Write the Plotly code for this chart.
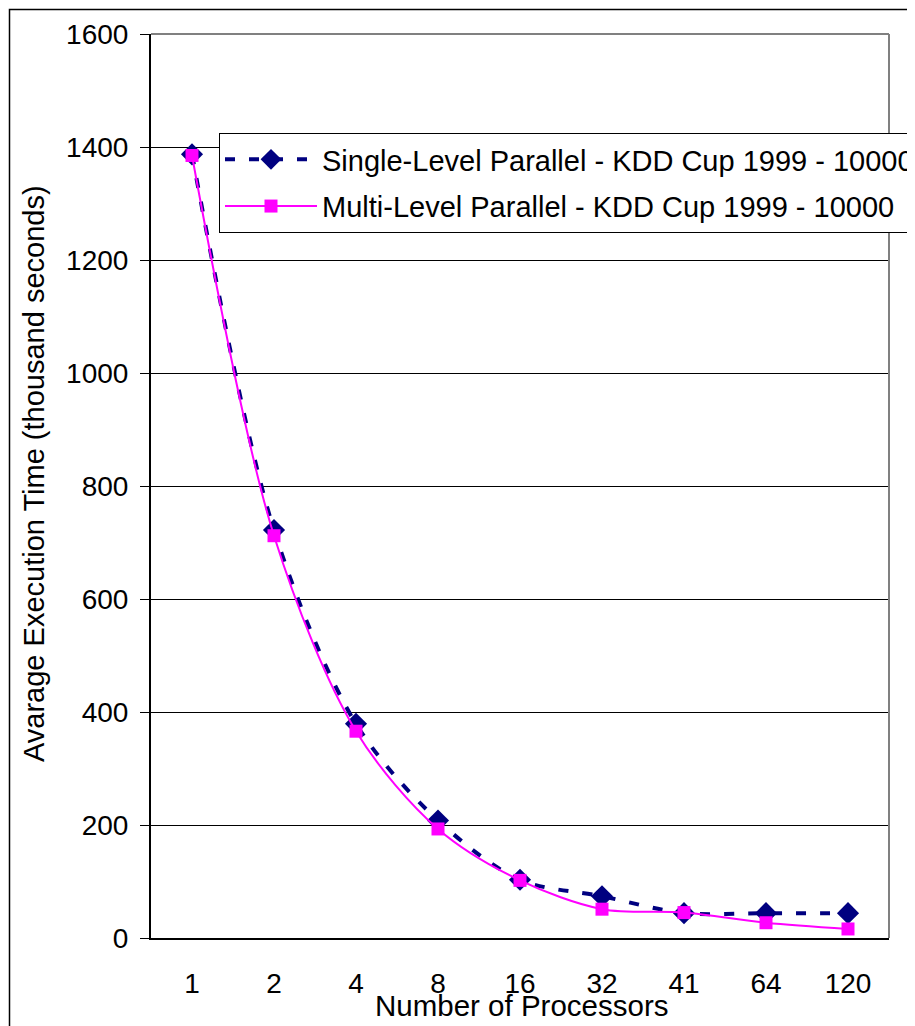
import plotly.graph_objects as go

categories = ["1", "2", "4", "8", "16", "32", "41", "64", "120"]
single_level = [1387, 722, 379, 208, 103, 74, 44, 44, 44]
multi_level = [1385, 712, 366, 193, 102, 51, 45, 27, 16]
y_ticks = [0, 200, 400, 600, 800, 1000, 1200, 1400, 1600]

series_names = [
    "Single-Level Parallel - KDD Cup 1999 - 10000",
    "Multi-Level Parallel - KDD Cup 1999 - 10000",
]

OFF = 8  # page body margin
W, H = 915 - OFF, 1026 - OFF
L, R, T, B = 151 - OFF, 889 - OFF, 34 - OFF, 938 - OFF  # plot area in figure pixels

def px_x(p):
    return (p - OFF - L) / (R - L)

def px_y(p):
    return (B - (p - OFF)) / (B - T)

FONT = "Liberation Sans, Arial, sans-serif"

fig = go.Figure()
fig.add_trace(go.Scatter(
    x=categories, y=single_level, name=series_names[0], mode="lines+markers",
    line=dict(color="#000080", width=4, dash="10px,14px", shape="spline", smoothing=0.9),
    marker=dict(symbol="diamond", size=17, color="#000080"),
    legendgroup="a",
))
fig.add_trace(go.Scatter(
    x=categories, y=multi_level, name=series_names[1], mode="lines+markers",
    line=dict(color="#FF00FF", width=2, shape="spline", smoothing=0.9),
    marker=dict(symbol="square", size=13, color="#FF00FF"),
    legendgroup="b",
))

fig.update_layout(
    width=W, height=H,
    margin=dict(l=L, r=W - R, t=T, b=H - B, autoexpand=False),
    paper_bgcolor="white", plot_bgcolor="white",
    font=dict(family=FONT, size=28, color="black"),
    showlegend=True,
    legend=dict(
        x=px_x(219), y=px_y(133), xanchor="left", yanchor="top",
        bgcolor="white", bordercolor="black", borderwidth=1,
        font=dict(family=FONT, size=29, color="black"),
        itemwidth=92, tracegroupgap=6,
    ),
    xaxis=dict(
        type="category", categoryorder="array", categoryarray=categories,
        showline=True, linecolor="black", linewidth=2,
        ticks="", showgrid=False, zeroline=False,
        tickfont=dict(family=FONT, size=28, color="black"),
        ticklabelstandoff=19,
        range=[-0.5, len(categories) - 0.5],
    ),
    yaxis=dict(
        range=[0, 1600], tickvals=y_ticks, ticktext=[str(v) for v in y_ticks],
        showline=True, linecolor="black", linewidth=2,
        ticks="outside", ticklen=9, tickcolor="black", tickwidth=1,
        showgrid=True, gridcolor="black", gridwidth=1, zeroline=False,
        tickfont=dict(family=FONT, size=28, color="black"),
        ticklabelstandoff=6,
    ),
    shapes=[
        # plot area right/top border (gray)
        dict(type="line", xref="paper", yref="paper", x0=0, x1=1, y0=1, y1=1,
             line=dict(color="#808080", width=2), layer="above"),
        dict(type="line", xref="paper", yref="paper", x0=1, x1=1, y0=0, y1=1,
             line=dict(color="#808080", width=2), layer="above"),
        # outer chart border
        dict(type="rect", xref="paper", yref="paper",
             x0=px_x(9.5), x1=px_x(915 + 20), y0=px_y(1026 + 20), y1=px_y(9.5),
             line=dict(color="black", width=1.5), layer="above"),
    ],
    annotations=[
        dict(text="Avarage Execution Time (thousand seconds)", xref="paper", yref="paper",
             x=px_x(34), y=px_y(474), xanchor="center", yanchor="middle",
             textangle=-90, showarrow=False, font=dict(family=FONT, size=29, color="black")),
        dict(text="Number of Processors", xref="paper", yref="paper",
             x=px_x(521), y=px_y(1005), xanchor="center", yanchor="middle",
             showarrow=False, font=dict(family=FONT, size=29.5, color="black")),
    ],
)

fig.write_html("out.html")
